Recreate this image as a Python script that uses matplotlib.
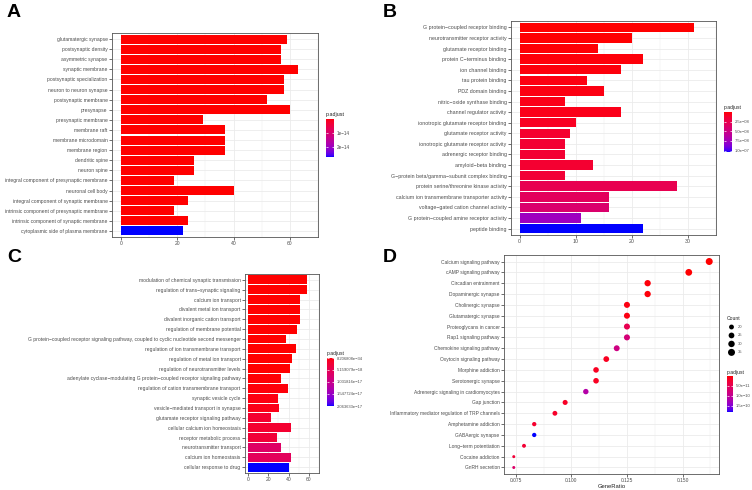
import numpy as np
import matplotlib
matplotlib.use("Agg")
import matplotlib.pyplot as plt
from matplotlib.colors import ListedColormap, Normalize

plt.rcParams['font.family'] = ['Liberation Sans', 'DejaVu Sans']

# ---------------- data ----------------
a_terms = ["glutamatergic synapse", "postsynaptic density", "asymmetric synapse",
           "synaptic membrane", "postsynaptic specialization", "neuron to neuron synapse",
           "postsynaptic membrane", "presynapse", "presynaptic membrane", "membrane raft",
           "membrane microdomain", "membrane region", "dendritic spine", "neuron spine",
           "integral component of presynaptic membrane", "neuronal cell body",
           "integral component of synaptic membrane", "intrinsic component of presynaptic membrane",
           "intrinsic component of synaptic membrane", "cytoplasmic side of plasma membrane"]
a_counts = [59, 57, 57, 63, 58, 58, 52, 60, 29, 37, 37, 37, 26, 26, 19, 40, 24, 19, 24, 22]
a_padj = [1.2e-20, 3.0e-19, 4.1e-19, 6.0e-19, 8.0e-19, 9.0e-19, 2.0e-18, 3.0e-18, 5.0e-18,
          8.0e-18, 9.0e-18, 1.0e-17, 3.0e-17, 3.5e-17, 5.0e-17, 6.0e-17, 8.0e-17, 9.0e-17,
          1.0e-16, 2.72e-14]
a_ticks = [1e-14, 2e-14]
a_ticklabels = ["1e\u221214", "2e\u221214"]

b_terms = ["G protein\u2212coupled receptor binding", "neurotransmitter receptor activity",
           "glutamate receptor binding", "protein C\u2212terminus binding", "ion channel binding",
           "tau protein binding", "PDZ domain binding", "nitric\u2212oxide synthase binding",
           "channel regulator activity", "ionotropic glutamate receptor binding",
           "glutamate receptor activity", "ionotropic glutamate receptor activity",
           "adrenergic receptor binding", "amyloid\u2212beta binding",
           "G\u2212protein beta/gamma\u2212subunit complex binding",
           "protein serine/threonine kinase activity",
           "calcium ion transmembrane transporter activity",
           "voltage\u2212gated cation channel activity",
           "G protein\u2212coupled amine receptor activity", "peptide binding"]
b_counts = [31, 20, 14, 22, 18, 12, 15, 8, 18, 10, 9, 8, 8, 13, 8, 28, 16, 16, 11, 22]
b_padj = [2.1e-12, 4.5e-10, 1.2e-09, 2.0e-09, 2.3e-09, 3.1e-09, 3.6e-09, 4.5e-09, 5.2e-09,
          7.8e-09, 1.2e-08, 1.4e-08, 1.4e-08, 1.3e-08, 1.5e-08, 2.6e-08, 3.1e-08, 3.9e-08,
          7.6e-08, 1.035e-07]
b_ticks = [2.5e-08, 5.0e-08, 7.5e-08, 1.0e-07]
b_ticklabels = ["2.5e\u221208", "5.0e\u221208", "7.5e\u221208", "1.0e\u221207"]

c_terms = ["modulation of chemical synaptic transmission", "regulation of trans\u2212synaptic signaling",
           "calcium ion transport", "divalent metal ion transport",
           "divalent inorganic cation transport", "regulation of membrane potential",
           "G protein\u2212coupled receptor signaling pathway, coupled to cyclic nucleotide second messenger",
           "regulation of ion transmembrane transport", "regulation of metal ion transport",
           "regulation of neurotransmitter levels",
           "adenylate cyclase\u2212modulating G protein\u2212coupled receptor signaling pathway",
           "regulation of cation transmembrane transport", "synaptic vesicle cycle",
           "vesicle\u2212mediated transport in synapse", "glutamate receptor signaling pathway",
           "cellular calcium ion homeostasis", "receptor metabolic process",
           "neurotransmitter transport", "calcium ion homeostasis", "cellular response to drug"]
c_counts = [58, 58, 51, 51, 51, 48, 37, 47, 43, 41, 33, 39, 30, 31, 23, 42, 29, 33, 42, 40]
c_padj = [8.206808e-34, 1.0e-25, 5.0e-24, 6.0e-24, 8.0e-24, 2.0e-22, 5.0e-21, 8.0e-21, 2.0e-20,
          6.0e-20, 2.0e-19, 4.0e-19, 6.0e-19, 9.0e-19, 2.5e-18, 2.5e-18, 3.2e-18, 7.0e-18,
          6.2e-18, 2.063633e-17]
c_ticks = [8.206808e-34, 5.159079e-18, 1.031816e-17, 1.547724e-17, 2.063633e-17]
c_ticklabels = ["8.206808e\u221234", "5.159079e\u221218", "1.031816e\u221217",
                "1.547724e\u221217", "2.063633e\u221217"]

d_terms = ["Calcium signaling pathway", "cAMP signaling pathway", "Circadian entrainment",
           "Dopaminergic synapse", "Cholinergic synapse", "Glutamatergic synapse",
           "Proteoglycans in cancer", "Rap1 signaling pathway", "Chemokine signaling pathway",
           "Oxytocin signaling pathway", "Morphine addiction", "Serotonergic synapse",
           "Adrenergic signaling in cardiomyocytes", "Gap junction",
           "Inflammatory mediator regulation of TRP channels", "Amphetamine addiction",
           "GABAergic synapse", "Long\u2212term potentiation", "Cocaine addiction", "GnRH secretion"]
d_counts = [35, 33, 29, 29, 27, 27, 27, 27, 26, 25, 24, 24, 23, 21, 20, 18, 18, 17, 16, 16]
d_ratio = [0.162, 0.1528, 0.1343, 0.1343, 0.125, 0.125, 0.125, 0.125, 0.1204, 0.1157,
           0.1111, 0.1111, 0.1065, 0.0972, 0.0926, 0.0833, 0.0833, 0.0787, 0.0741, 0.0741]
d_padj = [2.0e-13, 1.1e-12, 3.5e-12, 3.5e-12, 6.0e-12, 6.0e-12, 4.6e-11, 7.7e-11, 8.6e-11,
          1.3e-11, 1.4e-11, 1.4e-11, 1.15e-10, 1.6e-11, 1.8e-11, 2.2e-11, 1.82e-10, 2.6e-11,
          2.8e-11, 6.5e-11]
d_ticks = [5.0e-11, 1.0e-10, 1.5e-10]
d_ticklabels = ["5.0e\u221211", "1.0e\u221210", "1.5e\u221210"]
d_size_breaks = [20, 25, 30, 35]
d_xticks = [0.075, 0.100, 0.125, 0.150]
d_xticklabels = ["0.075", "0.100", "0.125", "0.150"]

# ---------------- colormap: red -> blue interpolated in Lab ----------------
M = np.array([[0.4124564, 0.3575761, 0.1804375],
              [0.2126729, 0.7151522, 0.0721750],
              [0.0193339, 0.1191920, 0.9503041]])
WP = np.array([0.95047, 1.0, 1.08883])


def srgb_to_lab(rgb):
    rgb = np.asarray(rgb, float)
    lin = np.where(rgb <= 0.04045, rgb / 12.92, ((rgb + 0.055) / 1.055) ** 2.4)
    f = (M @ lin) / WP
    d = 6 / 29
    f = np.where(f > d ** 3, np.cbrt(f), f / (3 * d * d) + 4 / 29)
    return np.array([116 * f[1] - 16, 500 * (f[0] - f[1]), 200 * (f[1] - f[2])])


def lab_to_srgb(lab):
    L, a, b = lab
    fy = (L + 16) / 116
    fx = fy + a / 500
    fz = fy - b / 200
    d = 6 / 29
    f = np.array([fx, fy, fz])
    t = np.where(f > d, f ** 3, 3 * d * d * (f - 4 / 29))
    xyz = t * WP
    lin = np.linalg.solve(M, xyz)
    lin = np.clip(lin, 0, 1)
    rgb = np.where(lin <= 0.0031308, 12.92 * lin, 1.055 * lin ** (1 / 2.4) - 0.055)
    return np.clip(rgb, 0, 1)


lab_r = srgb_to_lab([1, 0, 0])
lab_b = srgb_to_lab([0, 0, 1])
cmap = ListedColormap([lab_to_srgb(lab_r + (lab_b - lab_r) * t) for t in np.linspace(0, 1, 256)])

# ---------------- figure ----------------
W, H = 752, 490
fig = plt.figure(figsize=(W / 100, H / 100), dpi=100)
fig.patch.set_facecolor('white')

TXT = '#4D4D4D'
GRID = '#EBEBEB'
BORDER = '#555555'


def ax_px(l, t, r, b):
    return fig.add_axes([l / W, 1 - b / H, (r - l) / W, (b - t) / H])


def style(ax, fs):
    for s in ax.spines.values():
        s.set_color(BORDER)
        s.set_linewidth(0.6)
    ax.tick_params(axis='both', which='major', length=2, width=0.5, color='#333333',
                   labelsize=fs, labelcolor=TXT, pad=1.2)
    ax.tick_params(axis='both', which='minor', length=0)
    ax.set_axisbelow(True)
    ax.grid(True, which='major', color=GRID, linewidth=0.6)
    ax.grid(True, which='minor', axis='x', color=GRID, linewidth=0.35)


def bar_panel(box, terms, counts, padj, xmax_data, xticks, fs):
    ax = ax_px(*box)
    norm = Normalize(min(padj), max(padj))
    ax.barh(terms, counts, height=0.9, color=cmap(norm(np.array(padj))), linewidth=0)
    n = len(terms)
    ax.set_ylim(n - 1 + 0.6, -0.6)
    ax.set_xlim(-0.05 * xmax_data, 1.05 * xmax_data)
    ax.set_xticks(xticks)
    ax.set_xticks([(xticks[i] + xticks[i + 1]) / 2 for i in range(len(xticks) - 1)] +
                  [xticks[-1] + (xticks[1] - xticks[0]) / 2], minor=True)
    style(ax, fs)
    return ax, norm


def colorbar(box, norm, ticks, labels, fs, title):
    cax = ax_px(*box)
    grad = np.linspace(norm.vmin, norm.vmax, 256).reshape(-1, 1)
    cax.imshow(grad, aspect='auto', cmap=cmap, norm=norm,
               extent=[0, 1, norm.vmax, norm.vmin], interpolation='bilinear')
    cax.set_ylim(norm.vmax, norm.vmin)
    cax.set_xlim(0, 1)
    cax.set_xticks([])
    cax.yaxis.tick_right()
    cax.set_yticks(ticks)
    cax.set_yticklabels(labels)
    cax.tick_params(axis='y', length=1.5, width=0.5, color='white', direction='in',
                    labelsize=fs, labelcolor=TXT, pad=2, left=True, right=True)
    for s in cax.spines.values():
        s.set_visible(False)
    cax.text(0, 1.04, title, transform=cax.transAxes, ha='left', va='bottom',
             fontsize=fs + 0.6, color='#222222')
    return cax


# Panel A
axA, normA = bar_panel((112, 33, 318, 237), a_terms, a_counts, a_padj, 63, [0, 20, 40, 60], 3.6)
colorbar((326, 119, 334, 157), normA, a_ticks, a_ticklabels, 3.3, "p.adjust")

# Panel B
axB, normB = bar_panel((511, 21, 716, 235), b_terms, b_counts, b_padj, 31, [0, 10, 20, 30], 3.8)
colorbar((724, 112, 732, 152), normB, b_ticks, b_ticklabels, 3.0, "p.adjust")

# Panel C
axC, normC = bar_panel((245, 274, 319, 473), c_terms, c_counts, c_padj, 58, [0, 20, 40, 60], 3.6)
colorbar((327, 358, 334, 406), normC, c_ticks, c_ticklabels, 3.0, "p.adjust")

# Panel D
axD = ax_px(504, 255, 719, 474)
normD = Normalize(min(d_padj), max(d_padj))
cmin, cmax = min(d_counts), max(d_counts)


def dot_px(c):
    return 3.0 + 4.0 * np.sqrt((np.asarray(c, float) - cmin) / (cmax - cmin))


def dot_s(c):
    return (dot_px(c) * 0.72) ** 2


axD.scatter(d_ratio, d_terms, s=dot_s(d_counts), c=cmap(normD(np.array(d_padj))),
            linewidths=0, zorder=3)
n = len(d_terms)
axD.set_ylim(n - 1 + 0.6, -0.6)
rng = max(d_ratio) - min(d_ratio)
axD.set_xlim(min(d_ratio) - 0.05 * rng, max(d_ratio) + 0.05 * rng)
axD.set_xticks(d_xticks)
axD.set_xticklabels(d_xticklabels)
axD.set_xticks([0.0875, 0.1125, 0.1375, 0.1625], minor=True)
style(axD, 3.5)
axD.tick_params(axis='x', pad=0.8)
axD.set_xlabel("GeneRatio", fontsize=4.2, color='#222222', labelpad=0.6)

# Count legend
lax = ax_px(722, 316, 752, 360)
lax.set_axis_off()
lax.set_xlim(0, 30)
lax.set_ylim(len(d_size_breaks) - 0.1, -1.3)
lax.scatter([9.5] * len(d_size_breaks), range(len(d_size_breaks)), s=dot_s(d_size_breaks),
            color='black', linewidths=0)
for i, v in enumerate(d_size_breaks):
    lax.text(16, i, str(v), fontsize=3.0, color=TXT, va='center', ha='left')
lax.text(4.5, -1.25, "Count", fontsize=3.6, color='#222222', va='top', ha='left')
colorbar((727, 376, 733, 412), normD, d_ticks, d_ticklabels, 3.0, "p.adjust")

# Panel letters
for lbl, x, y in [("A", 7, 4), ("B", 383, 4), ("C", 7, 249), ("D", 383, 249)]:
    fig.text(x / W, 1 - y / H, lbl, fontsize=14, fontweight='bold', ha='left', va='top',
             color='black')

fig.savefig("out.png", dpi=100, facecolor='white')
